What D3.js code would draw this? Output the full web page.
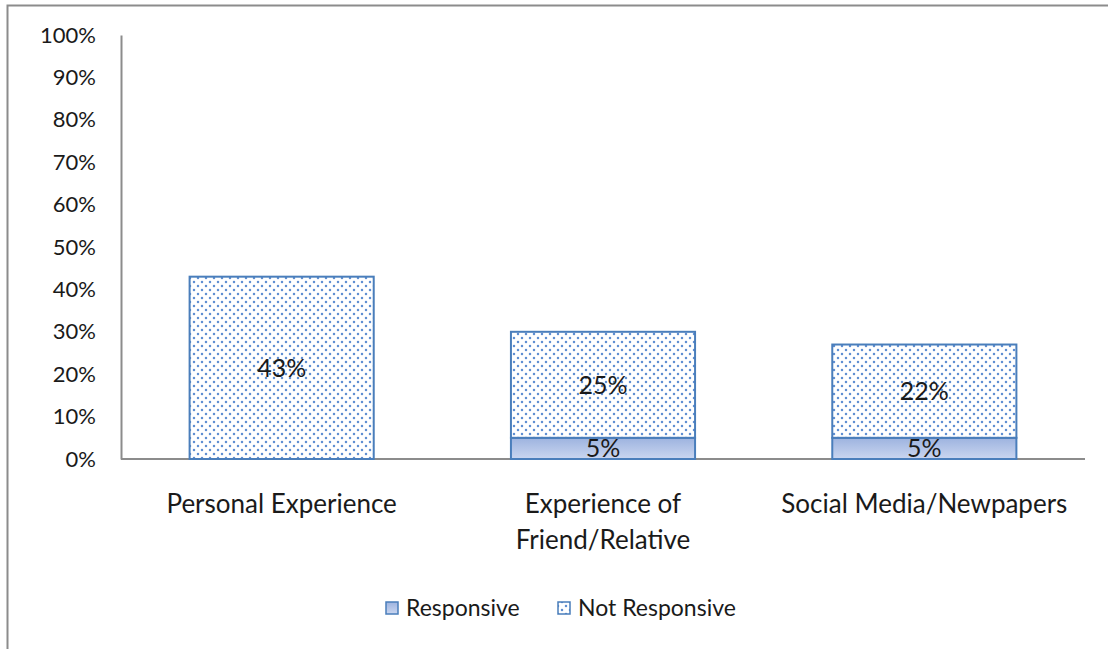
<!DOCTYPE html>
<html>
<head>
<meta charset="utf-8">
<script src="https://cdn.jsdelivr.net/npm/d3@7"></script>
<style>
  html, body { margin: 0; padding: 0; background: #fff; }
  svg { display: block; font-family: "Lato", "Open Sans", sans-serif; font-weight: 400; }
</style>
</head>
<body>
<svg id="chart" width="1108" height="649"></svg>
<script>
// Source channels and the share of each outcome
const categories = [["Personal Experience"], ["Experience of", "Friend/Relative"], ["Social Media/Newpapers"]];
const responsive = [0, 0.05, 0.05];
const notResponsive = [0.43, 0.25, 0.22];
const seriesNames = ["Responsive", "Not Responsive"];
const yTicks = [0, 0.1, 0.2, 0.3, 0.4, 0.5, 0.6, 0.7, 0.8, 0.9, 1.0];

const svg = d3.select("#chart");
const blue = "#4a7ebb";
const ink = "#1a1a1a";

const defs = svg.append("defs");
const grad = defs.append("linearGradient")
  .attr("id", "respFill").attr("x1", 0).attr("y1", 0).attr("x2", 0).attr("y2", 1);
grad.append("stop").attr("offset", "0%").attr("stop-color", "#9db3df");
grad.append("stop").attr("offset", "100%").attr("stop-color", "#cad6f0");

const pat = defs.append("pattern")
  .attr("id", "dots").attr("patternUnits", "userSpaceOnUse")
  .attr("width", 8).attr("height", 8);
pat.append("rect").attr("width", 8).attr("height", 8).attr("fill", "#fff");
pat.append("circle").attr("cx", 2).attr("cy", 2).attr("r", 1.25).attr("fill", "#5f8fd2");
pat.append("circle").attr("cx", 6).attr("cy", 6).attr("r", 1.25).attr("fill", "#5f8fd2");

// Outer chart frame
svg.append("rect")
  .attr("x", 7.5).attr("y", 5.5).attr("width", 1200).attr("height", 700)
  .attr("fill", "none").attr("stroke", "#8c8c8c").attr("stroke-width", 2);

const plot = { left: 121, right: 1085, top: 35, bottom: 459 };

const x = d3.scaleBand()
  .domain(d3.range(categories.length))
  .range([plot.left, plot.right])
  .paddingInner(0.427).paddingOuter(0.2135);

const y = d3.scaleLinear().domain([0, 1]).range([plot.bottom, plot.top]);

// Y axis labels (no tick marks)
const yAxis = d3.axisLeft(y).tickValues(yTicks).tickFormat(d3.format(".0%")).tickSize(0).tickPadding(25);
const gy = svg.append("g").attr("transform", `translate(${plot.left},0)`).call(yAxis);
gy.select(".domain").attr("stroke", "#8c8c8c").attr("stroke-width", 2);
gy.selectAll("text").attr("font-size", 22).attr("fill", ink)
  .attr("font-family", "Lato, sans-serif").attr("font-weight", 400);

// X baseline
svg.append("line")
  .attr("x1", plot.left).attr("x2", plot.right)
  .attr("y1", plot.bottom).attr("y2", plot.bottom)
  .attr("stroke", "#8c8c8c").attr("stroke-width", 2);

const rows = categories.map((c, i) => ({ i, r: responsive[i], n: notResponsive[i] }));

// Responsive segments
svg.append("g").selectAll("rect").data(rows.filter(d => d.r > 0)).join("rect")
  .attr("x", d => x(d.i)).attr("width", x.bandwidth())
  .attr("y", d => y(d.r)).attr("height", d => y(0) - y(d.r))
  .attr("fill", "url(#respFill)").attr("stroke", blue).attr("stroke-width", 2);

// Not responsive segments stacked above
svg.append("g").selectAll("rect").data(rows).join("rect")
  .attr("x", d => x(d.i)).attr("width", x.bandwidth())
  .attr("y", d => y(d.r + d.n)).attr("height", d => y(d.r) - y(d.r + d.n))
  .attr("fill", "url(#dots)").attr("stroke", blue).attr("stroke-width", 2);

// Value labels
const fmt = d3.format(".0%");
const labels = svg.append("g").attr("font-size", 25).attr("fill", ink).attr("text-anchor", "middle");
rows.forEach(d => {
  const cx = x(d.i) + x.bandwidth() / 2;
  labels.append("text").attr("x", cx).attr("y", (y(d.r) + y(d.r + d.n)) / 2).attr("dy", "0.36em").text(fmt(d.n));
  if (d.r > 0) {
    labels.append("text").attr("x", cx).attr("y", (y(0) + y(d.r)) / 2).attr("dy", "0.36em").text(fmt(d.r));
  }
});

// Category labels
const cats = svg.append("g").attr("font-size", 26).attr("fill", ink).attr("text-anchor", "middle");
categories.forEach((lines, i) => {
  const cx = x(i) + x.bandwidth() / 2;
  const t = cats.append("text").attr("x", cx).attr("y", 513);
  lines.forEach((ln, k) => t.append("tspan").attr("x", cx).attr("dy", k === 0 ? 0 : 36).text(ln));
});

// Legend
const legend = svg.append("g").attr("font-size", 23).attr("fill", ink);
const legendItems = [
  { name: seriesNames[0], fill: "url(#respFill)", x: 386 },
  { name: seriesNames[1], fill: "url(#dots)", x: 558 }
];
legendItems.forEach(it => {
  legend.append("rect").attr("x", it.x).attr("y", 602).attr("width", 12).attr("height", 12)
    .attr("fill", it.fill).attr("stroke", blue).attr("stroke-width", 1.5);
  legend.append("text").attr("x", it.x + 20).attr("y", 608).attr("dy", "0.36em").text(it.name);
});
</script>
</body>
</html>
